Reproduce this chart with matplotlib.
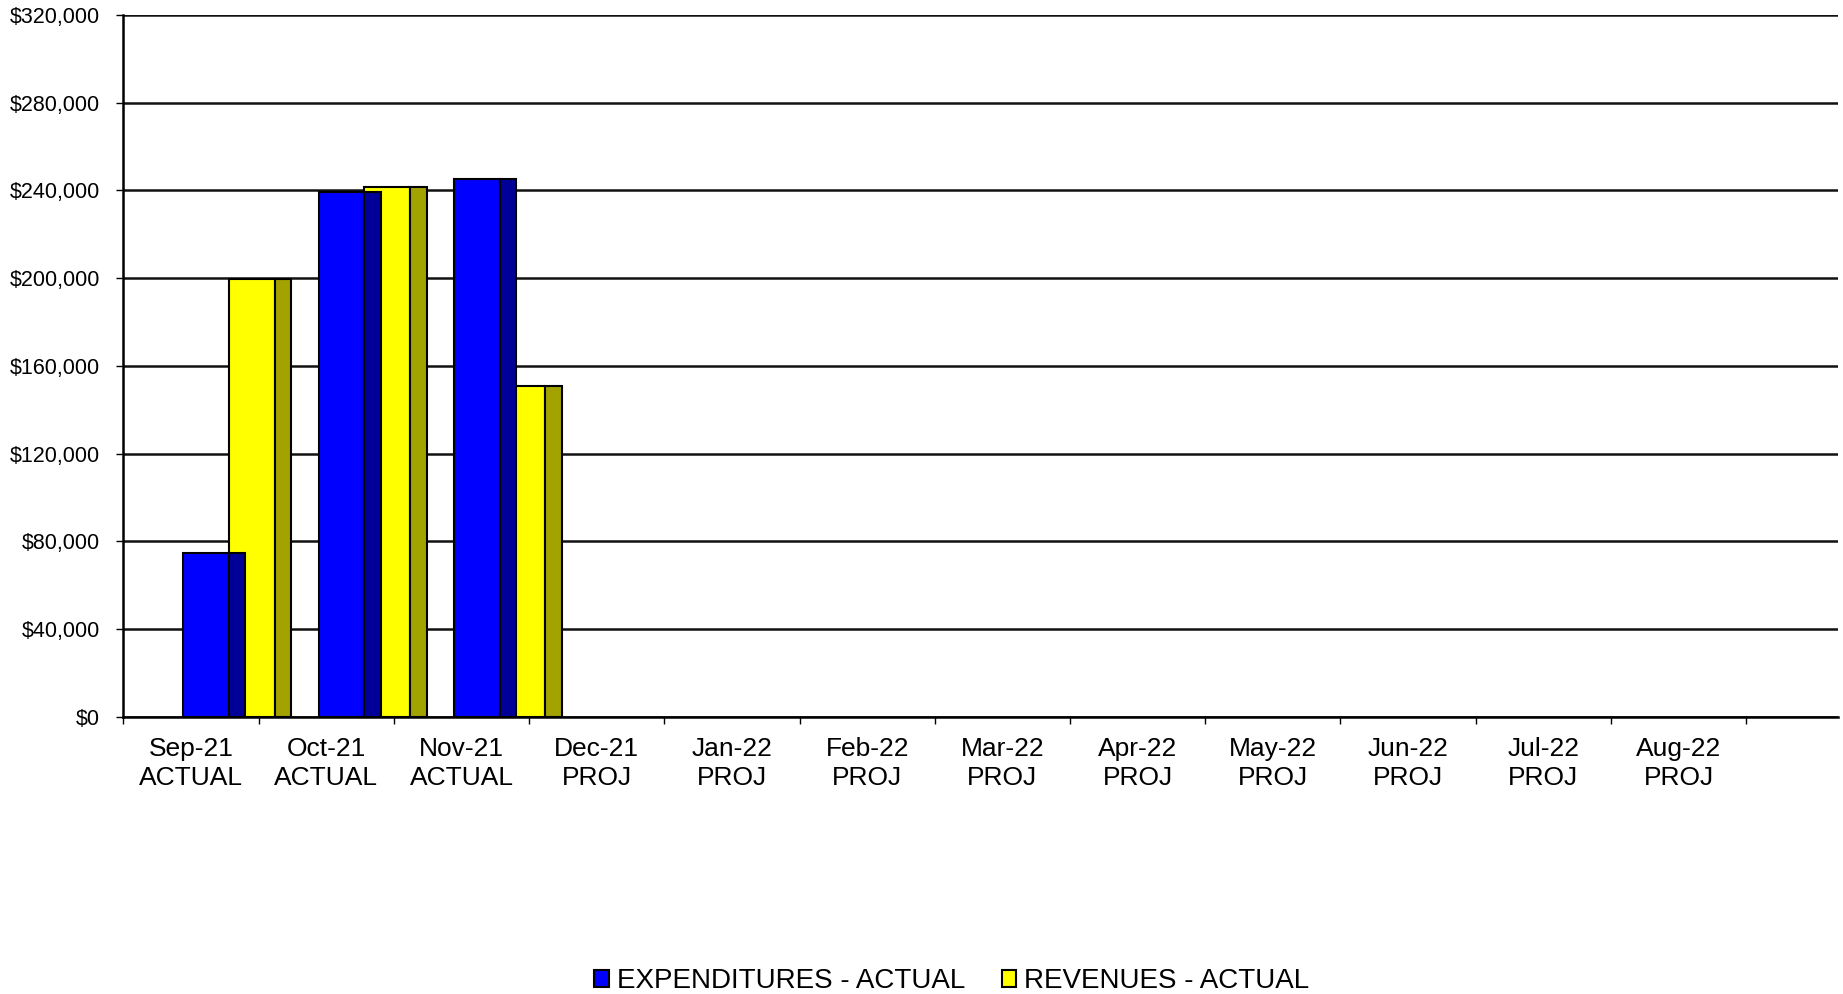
import matplotlib
matplotlib.use("Agg")
import matplotlib.pyplot as plt
from matplotlib.patches import Patch
from matplotlib.ticker import FuncFormatter, FixedLocator

plt.rcParams["font.family"] = ["Liberation Sans", "DejaVu Sans"]

# Monthly figures, fiscal year Sep-21 .. Aug-22
months = ["Sep-21", "Oct-21", "Nov-21", "Dec-21", "Jan-22", "Feb-22",
          "Mar-22", "Apr-22", "May-22", "Jun-22", "Jul-22", "Aug-22"]
status = ["ACTUAL", "ACTUAL", "ACTUAL", "PROJ", "PROJ", "PROJ",
          "PROJ", "PROJ", "PROJ", "PROJ", "PROJ", "PROJ"]
expenditures = [74700, 239500, 245100]
revenues = [199500, 241400, 151000]
y_ticks = [0, 40000, 80000, 120000, 160000, 200000, 240000, 280000, 320000]

fig = plt.figure(figsize=(18.43, 9.94), dpi=100)
ax = fig.add_axes([0.0670, 0.2790, 0.9303, 0.7059])

# faux-3D columns: a front face plus a darker side face
front_w = 0.339
side_w = 0.12
edge = dict(edgecolor="black", linewidth=1.5, align="edge")

x_exp = [i - 0.057 for i in range(len(expenditures))]
x_rev = [i - 0.057 + front_w for i in range(len(revenues))]

ax.bar(x_rev, revenues, width=front_w, color="#FFFF00", zorder=2, **edge)
ax.bar([x + front_w for x in x_rev], revenues, width=side_w,
       color="#A3A300", zorder=2, **edge)
ax.bar(x_exp, expenditures, width=front_w, color="#0000FF", zorder=3, **edge)
ax.bar([x + front_w for x in x_exp], expenditures, width=side_w,
       color="#000099", zorder=3, **edge)

ax.set_xlim(-0.5, 12.18)
ax.set_ylim(0, 320000)

ax.yaxis.set_major_locator(FixedLocator(y_ticks))
ax.yaxis.set_major_formatter(FuncFormatter(lambda v, p: f"${v:,.0f}"))
ax.grid(axis="y", color="#111111", linewidth=1.8)
ax.set_axisbelow(True)

# ticks sit between categories, labels centred under each month
ax.set_xticks([i - 0.5 for i in range(len(months) + 1)])
ax.set_xticklabels([])
ax.set_xticks(range(len(months)), minor=True)
ax.set_xticklabels([f"{m}\n{s}" for m, s in zip(months, status)], minor=True,
                   linespacing=1.25)
ax.tick_params(axis="x", which="major", length=5, width=1, color="black",
               direction="out")
ax.tick_params(axis="x", which="minor", length=0, pad=14.5, labelsize=19)
ax.tick_params(axis="y", length=5, width=1, pad=12, labelsize=15.5)

for side in ["top", "right"]:
    ax.spines[side].set_visible(False)
ax.spines["left"].set_linewidth(1.8)
ax.spines["bottom"].set_linewidth(1.8)

handles = [Patch(facecolor="#0000FF", edgecolor="black", linewidth=1.5),
           Patch(facecolor="#FFFF00", edgecolor="black", linewidth=1.5)]
fig.legend(handles, ["EXPENDITURES - ACTUAL", "REVENUES - ACTUAL"],
           loc="center", bbox_to_anchor=(0.5165, 0.0128), ncol=2,
           frameon=False, fontsize=20, handlelength=0.52, handleheight=0.52,
           handletextpad=0.3, columnspacing=1.3, borderpad=0, borderaxespad=0)

fig.savefig("out.png", dpi=100)
